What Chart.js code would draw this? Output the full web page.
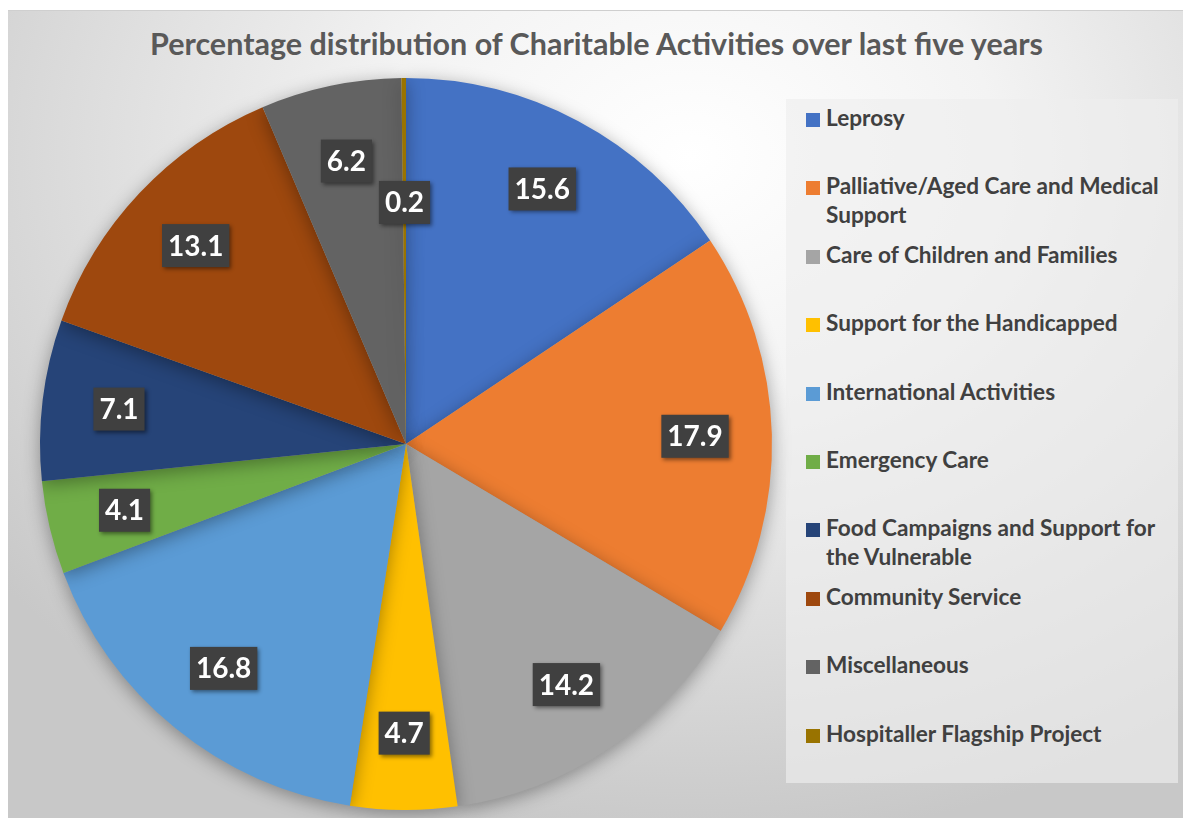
<!DOCTYPE html>
<html>
<head>
<meta charset="utf-8">
<script src="https://cdn.jsdelivr.net/npm/chart.js@4.4.1/dist/chart.umd.min.js"></script>
<style>
  html, body { margin: 0; padding: 0; background: #fff; }
  body { width: 1183px; height: 818px; position: relative; overflow: hidden; font-family: "Lato", "Open Sans", sans-serif; }
  #frame {
    position: absolute; left: 8px; top: 10px; width: 1175px; height: 808px;
    border-top: 1px solid #cfcfcf; box-sizing: border-box;
    background: radial-gradient(ellipse 75% 85% at 58% 18%, #ffffff 0%, #f3f3f3 35%, #dcdcdc 70%, #c8c8c8 100%);
  }
  #title {
    position: absolute; left: 0; top: 25px; width: 1193px; text-align: center;
    font-weight: bold; font-size: 30.5px; color: #595959;
  }
  #legendBox {
    position: absolute; left: 786px; top: 99px; width: 392px; height: 684px;
    background: rgba(238, 238, 238, 0.65); box-sizing: border-box; padding-top: 5px;
  }
  .item { height: 68.4px; position: relative; }
  .swatch { position: absolute; left: 20px; top: 9px; width: 14px; height: 14px; }
  .text { position: absolute; left: 40px; top: -1px; font-weight: bold; font-size: 22.6px; line-height: 29px; color: #404040; white-space: nowrap; }
  canvas { position: absolute; left: 0; top: 0; }
</style>
</head>
<body>
<div id="frame"></div>
<div id="title">Percentage distribution of Charitable Activities over last five years</div>
<div id="legendBox"></div>
<canvas id="pieChart" width="1183" height="818"></canvas>
<script>
// data
const categories = [
  ['Leprosy'],
  ['Palliative/Aged Care and Medical', 'Support'],
  ['Care of Children and Families'],
  ['Support for the Handicapped'],
  ['International Activities'],
  ['Emergency Care'],
  ['Food Campaigns and Support for', 'the Vulnerable'],
  ['Community Service'],
  ['Miscellaneous'],
  ['Hospitaller Flagship Project']
];
const percentages = [15.6, 17.9, 14.2, 4.7, 16.8, 4.1, 7.1, 13.1, 6.2, 0.2];
const sliceColors = ['#4472C4', '#ED7D31', '#A5A5A5', '#FFC000', '#5B9BD5', '#70AD47', '#264478', '#9E480E', '#636363', '#997300'];

// build legend
const legendBox = document.getElementById('legendBox');
categories.forEach((lines, i) => {
    const item = document.createElement('div');
    item.className = 'item';
    item.innerHTML = '<div class="swatch" style="background:' + sliceColors[i] + '"></div>' +
        '<div class="text">' + lines.join('<br>') + '</div>';
    legendBox.appendChild(item);
});

// shadow under the pie
const pieShadow = {
    id: 'pieShadow',
    beforeDatasetsDraw(chart) {
        const ctx = chart.ctx;
        ctx.save();
        ctx.shadowColor = 'rgba(0,0,0,0.35)';
        ctx.shadowBlur = 18;
        ctx.shadowOffsetY = 4;
    },
    afterDatasetsDraw(chart) {
        chart.ctx.restore();
    }
};

// dark boxed data labels
const boxLabels = {
    id: 'boxLabels',
    afterDraw(chart) {
        const ctx = chart.ctx;
        const meta = chart.getDatasetMeta(0);
        ctx.save();
        ctx.font = 'bold 28px Lato, "Open Sans", sans-serif';
        ctx.textAlign = 'center';
        ctx.textBaseline = 'middle';
        meta.data.forEach((arc, i) => {
            const p = arc.getProps(['x', 'y', 'startAngle', 'endAngle', 'outerRadius'], true);
            const mid = (p.startAngle + p.endAngle) / 2;
            const f = percentages[i] < 1 ? 0.66 : 0.79;
            const x = p.x + Math.cos(mid) * p.outerRadius * f;
            const y = p.y + Math.sin(mid) * p.outerRadius * f;
            const txt = percentages[i].toFixed(1);
            const w = ctx.measureText(txt).width + 12;
            const h = 43;
            ctx.shadowColor = 'rgba(0,0,0,0.45)';
            ctx.shadowBlur = 4;
            ctx.shadowOffsetX = 2;
            ctx.shadowOffsetY = 2;
            ctx.fillStyle = '#404040';
            ctx.fillRect(x - w / 2, y - h / 2, w, h);
            ctx.shadowColor = 'transparent';
            ctx.fillStyle = '#ffffff';
            ctx.fillText(txt, x, y + 1);
        });
        ctx.restore();
    }
};

const ctx = document.getElementById('pieChart').getContext('2d');
const chart = new Chart(ctx, {
    type: 'pie',
    data: {
        labels: categories.map(l => l.join(' ')),
        datasets: [{
            data: percentages,
            backgroundColor: sliceColors,
            borderWidth: 0
        }]
    },
    options: {
        responsive: false,
        animation: false,
        layout: {
            padding: { left: 40, right: 411, top: 78, bottom: 8 }
        },
        plugins: {
            legend: { display: false },
            tooltip: { enabled: false },
            title: { display: false }
        }
    },
    plugins: [pieShadow, boxLabels]
});
</script>
</body>
</html>
